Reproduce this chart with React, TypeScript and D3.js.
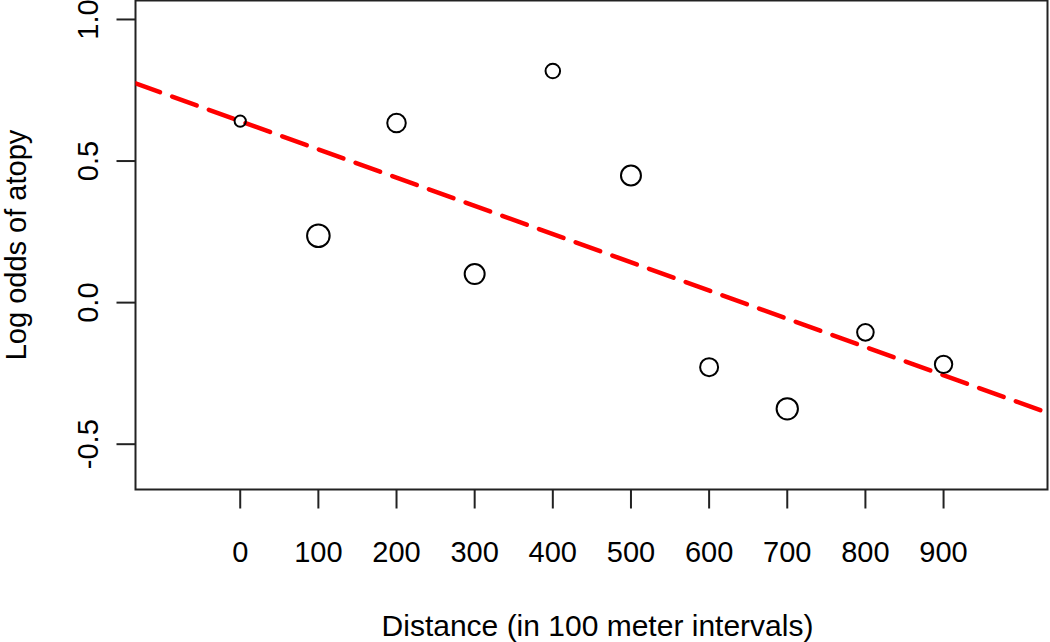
import React from "react";
import * as d3 from "d3";

const distances = [0, 100, 200, 300, 400, 500, 600, 700, 800, 900];
const logOdds = [0.641, 0.236, 0.634, 0.101, 0.818, 0.449, -0.228, -0.375, -0.105, -0.218];
const weights = [32, 128, 86, 100, 53, 100, 81, 114, 69, 76];
const xTicks = [0, 100, 200, 300, 400, 500, 600, 700, 800, 900];
const yTicks = [-0.5, 0.0, 0.5, 1.0];
const fitIntercept = 0.641;
const fitSlope = -0.000997;
const xDomain = [-134, 1033];
const yDomain = [-0.66, 1.067];

const W = 1050;
const H = 642;
const L = 135.5, R = 1047.5, T = 0.5, B = 489.5;
const FONT = "Liberation Sans, Arial, Helvetica, sans-serif";

const fmtY = (t: number) => d3.format(".1f")(t).replace("\u2212", "-");

export default function App() {
  const x = d3.scaleLinear().domain(xDomain).range([L, R]);
  const y = d3.scaleLinear().domain(yDomain).range([B, T]);
  const r = d3.scaleSqrt().domain([0, 128]).range([0, 11.3]);
  const lineGen = d3
    .line<number>()
    .x((d) => x(d))
    .y((d) => y(fitIntercept + fitSlope * d));
  const fs = 29;
  return (
    <div style={{ position: "absolute", left: 0, top: 0 }}>
      <svg width={W} height={H} style={{ display: "block", background: "#fff" }}>
        <defs>
          <clipPath id="plotClip">
            <rect x={L} y={T} width={R - L} height={B - T} />
          </clipPath>
        </defs>
        <rect x={L} y={T} width={R - L} height={B - T} fill="none" stroke="#222" strokeWidth={2} />
        {/* y axis */}
        {yTicks.map((t) => (
          <g key={"y" + t}>
            <line x1={L - 19} x2={L} y1={y(t)} y2={y(t)} stroke="#222" strokeWidth={2} />
            <text
              transform={`translate(${L - 38},${y(t)}) rotate(-90)`}
              textAnchor="middle"
              fontFamily={FONT}
              fontSize={fs}
              fill="#000"
            >
              {fmtY(t)}
            </text>
          </g>
        ))}
        {/* x axis */}
        {xTicks.map((t) => (
          <g key={"x" + t}>
            <line x1={x(t)} x2={x(t)} y1={B} y2={B + 19} stroke="#222" strokeWidth={2} />
            <text x={x(t)} y={562} textAnchor="middle" fontFamily={FONT} fontSize={fs} fill="#000">
              {String(t)}
            </text>
          </g>
        ))}
        <text x={(L + R) / 2 + 6} y={636} textAnchor="middle" fontFamily={FONT} fontSize={30} fill="#000">
          Distance (in 100 meter intervals)
        </text>
        <text
          transform={`translate(26,${(T + B) / 2}) rotate(-90)`}
          textAnchor="middle"
          fontFamily={FONT}
          fontSize={fs}
          fill="#000"
        >
          Log odds of atopy
        </text>
        {/* fitted line */}
        <path
          d={lineGen(xDomain) || ""}
          clipPath="url(#plotClip)"
          fill="none"
          stroke="#ff0000"
          strokeWidth={4.5}
          strokeDasharray="26 13"
          strokeLinecap="round"
        />
        {/* points */}
        {distances.map((d, i) => (
          <circle
            key={"p" + i}
            cx={x(d)}
            cy={y(logOdds[i])}
            r={r(weights[i])}
            fill="none"
            stroke="#000"
            strokeWidth={2}
          />
        ))}
      </svg>
    </div>
  );
}
